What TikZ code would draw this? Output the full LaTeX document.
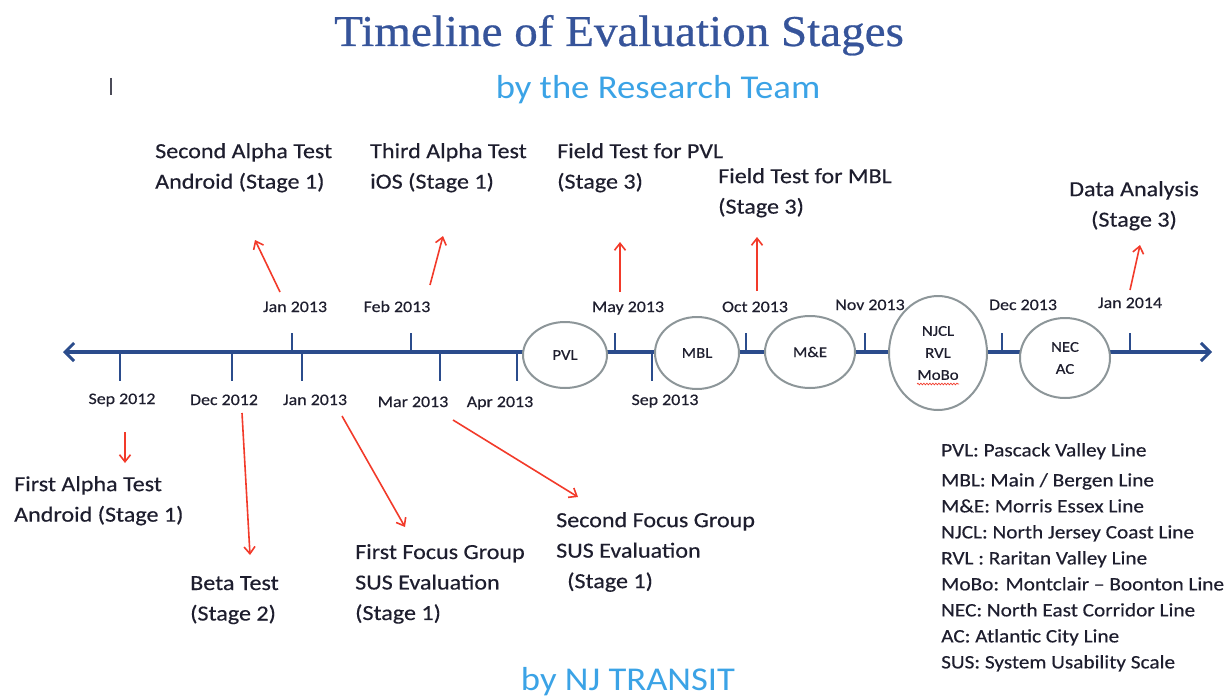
\documentclass[tikz,border=0pt]{standalone}
\usepackage{fontspec}
\setmainfont{Carlito}[FakeStretch=1.12,FakeBold=0.4]
\newfontfamily\headfont{Carlito}[FakeStretch=1.1]
\newfontfamily\titlefont{Liberation Serif}[FakeStretch=1.07,FakeBold=0.6]
\usetikzlibrary{arrows.meta,shapes.geometric,decorations.pathmorphing}
\definecolor{axisblue}{HTML}{2B4C8C}
\definecolor{titleblue}{HTML}{36549A}
\definecolor{skyblue}{HTML}{3BA3E6}
\definecolor{arrowred}{HTML}{F23A2A}
\definecolor{ringgray}{HTML}{8D9699}
\definecolor{txt}{HTML}{1E1E2E}
\tikzset{
  axisline/.style={draw=axisblue, line width=3.2pt},
  tick/.style={draw=axisblue, line width=2.8pt},
  datelbl/.style={font=\fontsize{16}{18}\selectfont, text=txt, inner sep=0, anchor=base},
  desc/.style={font=\fontsize{21.5}{30.5}\selectfont, text=txt, inner sep=0, anchor=north west, align=left},
  legend/.style={font=\fontsize{19}{26}\selectfont, text=txt, inner sep=0, anchor=north west, align=left},
  ring/.style={ellipse, draw=ringgray, line width=2pt, fill=white, inner sep=0,
    font=\fontsize{15}{22}\selectfont, text=txt, align=center},
  redarr/.style={draw=arrowred, line width=1.6pt, -{Straight Barb[length=7pt,width=11pt,line width=1.6pt]}},
}
\begin{document}
\begin{tikzpicture}[x=1pt,y=-1pt]
\useasboundingbox (0,0) rectangle (1230,698);

% headings
\node[font=\titlefont\fontsize{44}{48}\selectfont, text=titleblue, anchor=base] (title) at (619,46) {Timeline of Evaluation Stages};
\node[font=\headfont\fontsize{33.3}{36}\selectfont, text=skyblue, anchor=base] (sub) at (658,99) {by the Research Team};
\node[font=\headfont\fontsize{33.3}{36}\selectfont, text=skyblue, anchor=base] (foot) at (628,690) {by NJ TRANSIT};
\draw[draw=txt!80, line width=1.2pt] (111,78) -- (111,95);

% time axis
\coordinate (axL) at (63,352);
\coordinate (axR) at (1212,352);
\draw[axisline, {Straight Barb[length=9pt,width=18pt,line width=3pt]}-{Straight Barb[length=9pt,width=18pt,line width=3pt]}] (axL) -- (axR);

% ticks above the axis
\foreach \x in {292,411,615,746,865,1002,1130} \draw[tick] (\x,333) -- (\x,352);
% ticks below the axis
\foreach \x in {120,232,302,440,517,652} \draw[tick] (\x,352) -- (\x,381);

% date labels above
\node[datelbl] (jan13a) at (295,312) {Jan 2013};
\node[datelbl] (feb13) at (397,312) {Feb 2013};
\node[datelbl] (may13) at (628,312) {May 2013};
\node[datelbl] (oct13) at (755,312) {Oct 2013};
\node[datelbl] (nov13) at (870,310) {Nov 2013};
\node[datelbl] (dec13) at (1023,310) {Dec 2013};
\node[datelbl] (jan14) at (1130,308) {Jan 2014};
% date labels below
\node[datelbl] (sep12) at (122,404) {Sep 2012};
\node[datelbl] (dec12) at (224,405) {Dec 2012};
\node[datelbl] (jan13b) at (315,405) {Jan 2013};
\node[datelbl] (mar13) at (413,407) {Mar 2013};
\node[datelbl] (apr13) at (500,407) {Apr 2013};
\node[datelbl] (sep13) at (665,405) {Sep 2013};

% rail lines on the axis
\node[ring, minimum width=84pt, minimum height=66pt] (pvl) at (565,355) {PVL};
\node[ring, minimum width=84pt, minimum height=72pt] (mbl) at (697,353) {MBL};
\node[ring, minimum width=90pt, minimum height=72pt] (me) at (810,352) {M\&E};
\node[ring, minimum width=98pt, minimum height=114pt] (njcl) at (938,353) {NJCL\\RVL\\MoBo};
\node[ring, minimum width=90pt, minimum height=80pt] (nec) at (1065,358) {NEC\\AC};
\draw[arrowred, line width=0.7pt, decorate, decoration={snake, amplitude=0.8pt, segment length=3pt}] (917,384) -- (959,384);

% stage descriptions
\node[desc] (alpha2) at (155,143) {Second Alpha Test\\Android (Stage 1)};
\node[desc] (alpha3) at (370,143) {Third Alpha Test\\iOS (Stage 1)};
\node[desc] (fpvl) at (557,143) {Field Test for PVL\\(Stage 3)};
\node[desc] (fmbl) at (718,168) {Field Test for MBL\\(Stage 3)};
\node[desc, align=center, anchor=north] (data) at (1134,181) {Data Analysis\\(Stage 3)};
\node[desc] (alpha1) at (14,476) {First Alpha Test\\Android (Stage 1)};
\node[desc] (beta) at (190,576) {Beta Test\\(Stage 2)};
\node[desc] (focus1) at (355,544) {First Focus Group\\SUS Evaluation\\(Stage 1)};
\node[desc] (focus2) at (556,512) {Second Focus Group\\SUS Evaluation\\\hspace*{11pt}(Stage 1)};

% pointers from dates to stages
\coordinate (s1) at (125,432); \coordinate (e1) at (125,463);
\coordinate (s2) at (242,413); \coordinate (e2) at (250,555);
\coordinate (s3) at (342,416); \coordinate (e3) at (405,527);
\coordinate (s4) at (453,420); \coordinate (e4) at (578,497);
\coordinate (s5) at (280,292); \coordinate (e5) at (255,240);
\coordinate (s6) at (430,285); \coordinate (e6) at (443,236);
\coordinate (s7) at (620,292); \coordinate (e7) at (620,242);
\coordinate (s8) at (757,291); \coordinate (e8) at (757,237);
\coordinate (s9) at (1130,290); \coordinate (e9) at (1140,245);
\foreach \i in {1,...,9} \draw[redarr] (s\i) -- (e\i);

% legend
\node[legend] (leg1) at (941,443) {PVL: Pascack Valley Line};
\node[legend] (leg2) at (941,473) {MBL: Main / Bergen Line\\M\&E: Morris Essex Line\\NJCL: North Jersey Coast Line\\RVL : Raritan Valley Line\\MoBo: Montclair -- Boonton Line\\NEC: North East Corridor Line\\AC: Atlantic City Line\\SUS: System Usability Scale};
\end{tikzpicture}
\end{document}
